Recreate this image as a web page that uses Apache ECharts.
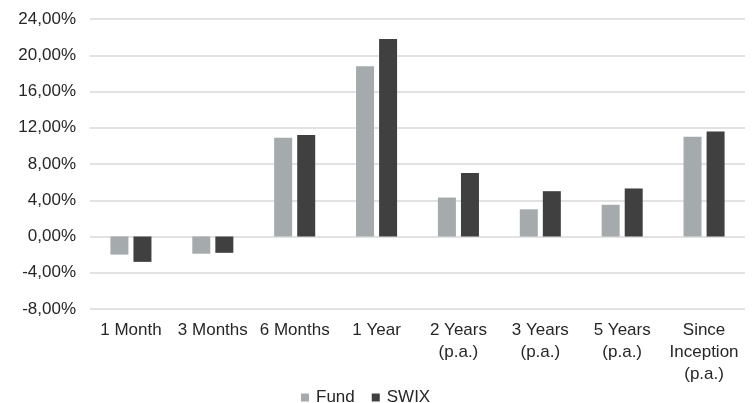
<!DOCTYPE html>
<html>
<head>
<meta charset="utf-8">
<script src="https://cdn.jsdelivr.net/npm/echarts@6/dist/echarts.min.js"></script>
<style>html,body{margin:0;padding:0;background:#fff}#c{width:754px;height:403px}</style>
</head>
<body>
<div id="c"></div>
<script>
const categories = ['1 Month', '3 Months', '6 Months', '1 Year', '2 Years\n(p.a.)', '3 Years\n(p.a.)', '5 Years\n(p.a.)', 'Since\nInception\n(p.a.)'];
const fundValues = [-2.0, -1.9, 10.9, 18.8, 4.3, 3.0, 3.5, 11.0];
const swixValues = [-2.8, -1.8, 11.2, 21.8, 7.0, 5.0, 5.3, 11.6];
const seriesNames = ['Fund', 'SWIX'];

const chart = echarts.init(document.getElementById('c'));
const font = 'Liberation Sans, Arial, sans-serif';
chart.setOption({
  animation: false,
  textStyle: { fontFamily: font },
  grid: { left: 90, right: 9, top: 19, bottom: 94, containLabel: false },
  legend: {
    data: seriesNames,
    left: 296, top: 384,
    icon: 'rect', itemWidth: 8, itemHeight: 8, itemGap: 17,
    textStyle: { fontFamily: font, fontSize: 17, color: '#262626', padding: [0, 0, 0, 2] }
  },
  xAxis: {
    type: 'category',
    data: categories,
    axisLine: { show: false },
    axisTick: { show: false },
    axisLabel: { fontFamily: font, fontSize: 17, color: '#262626', lineHeight: 22, margin: 10, interval: 0 }
  },
  yAxis: {
    type: 'value',
    min: -8, max: 24, interval: 4,
    axisLine: { show: false },
    axisTick: { show: false },
    splitLine: { lineStyle: { color: '#d9d9d9', width: 1.5 } },
    axisLabel: {
      fontFamily: font, fontSize: 17, color: '#262626', margin: 14,
      formatter: v => v.toFixed(2).replace('.', ',') + '%'
    }
  },
  series: [
    { name: seriesNames[0], type: 'bar', data: fundValues, barWidth: 18, barGap: '28%', itemStyle: { color: '#a5abad' } },
    { name: seriesNames[1], type: 'bar', data: swixValues, barWidth: 18, barGap: '28%', itemStyle: { color: '#404040' } }
  ]
});
</script>
</body>
</html>
